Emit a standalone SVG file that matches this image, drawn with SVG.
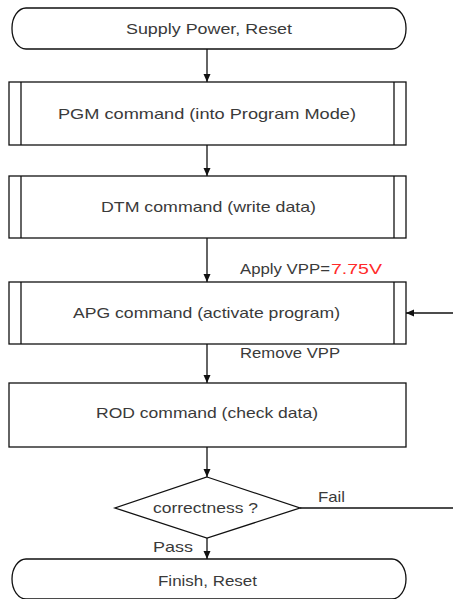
<svg xmlns="http://www.w3.org/2000/svg" width="453" height="599" viewBox="0 0 453 599">
<style>
.shape{fill:#fff;stroke:#111;stroke-width:1.3}
.inner{stroke:#111;stroke-width:1.3;fill:none}
.conn{stroke:#111;stroke-width:1.3;fill:none}
.t{font-family:"Liberation Sans",Arial,sans-serif;font-size:14.5px;fill:#3a3a3a}
.red{fill:#ff2a2a}
</style>
<defs>
<marker id="arr" markerUnits="userSpaceOnUse" markerWidth="9" markerHeight="8" refX="8" refY="3.5" orient="auto">
<path d="M0,0 L8,3.5 L0,7 z" fill="#111"/>
</marker>
</defs>
<rect width="453" height="599" fill="#fff"/>
<g id="start">
<rect class="shape" x="12" y="8" width="394" height="41" rx="14" ry="20"/>
<text class="t" x="126" y="34" textLength="166" lengthAdjust="spacingAndGlyphs">Supply Power, Reset</text>
</g>
<g id="pgm">
<rect class="shape" x="9" y="82" width="397" height="63"/>
<line class="inner" x1="21" y1="82" x2="21" y2="145"/>
<line class="inner" x1="394" y1="82" x2="394" y2="145"/>
<text class="t" x="58" y="119" textLength="298" lengthAdjust="spacingAndGlyphs">PGM command (into Program Mode)</text>
</g>
<g id="dtm">
<rect class="shape" x="9" y="176" width="397" height="62"/>
<line class="inner" x1="21" y1="176" x2="21" y2="238"/>
<line class="inner" x1="394" y1="176" x2="394" y2="238"/>
<text class="t" x="101" y="212" textLength="215" lengthAdjust="spacingAndGlyphs">DTM command (write data)</text>
</g>
<g id="apg">
<rect class="shape" x="9" y="282" width="397" height="62"/>
<line class="inner" x1="21" y1="282" x2="21" y2="344"/>
<line class="inner" x1="394" y1="282" x2="394" y2="344"/>
<text class="t" x="73" y="318" textLength="267" lengthAdjust="spacingAndGlyphs">APG command (activate program)</text>
</g>
<g id="rod">
<rect class="shape" x="9" y="383" width="397" height="64"/>
<text class="t" x="96" y="418" textLength="222" lengthAdjust="spacingAndGlyphs">ROD command (check data)</text>
</g>
<g id="decision">
<polygon class="shape" points="207,477 300,508 207,538 115,508"/>
<text class="t" x="153" y="513" textLength="105" lengthAdjust="spacingAndGlyphs">correctness ?</text>
</g>
<g id="finish">
<rect class="shape" x="12" y="559" width="394" height="40" rx="14" ry="20"/>
<text class="t" x="158" y="586" textLength="99" lengthAdjust="spacingAndGlyphs">Finish, Reset</text>
</g>
<g id="connectors">
<line class="conn" x1="207" y1="49" x2="207" y2="82" marker-end="url(#arr)"/>
<line class="conn" x1="207" y1="145" x2="207" y2="176" marker-end="url(#arr)"/>
<line class="conn" x1="207" y1="238" x2="207" y2="282" marker-end="url(#arr)"/>
<line class="conn" x1="207" y1="344" x2="207" y2="383" marker-end="url(#arr)"/>
<line class="conn" x1="207" y1="447" x2="207" y2="477" marker-end="url(#arr)"/>
<line class="conn" x1="207" y1="538" x2="207" y2="559" marker-end="url(#arr)"/>
<line class="conn" x1="300" y1="508" x2="453" y2="508"/>
<line class="conn" x1="453" y1="313" x2="406" y2="313" marker-end="url(#arr)"/>
<text class="t" x="240" y="274"><tspan x="240" textLength="90" lengthAdjust="spacingAndGlyphs">Apply VPP=</tspan><tspan class="red" x="331" textLength="51" lengthAdjust="spacingAndGlyphs">7.75V</tspan></text>
<text class="t" x="240" y="358" textLength="100" lengthAdjust="spacingAndGlyphs">Remove VPP</text>
<text class="t" x="318" y="502" textLength="27" lengthAdjust="spacingAndGlyphs">Fail</text>
<text class="t" x="153" y="552" textLength="40" lengthAdjust="spacingAndGlyphs">Pass</text>
</g>
</svg>
